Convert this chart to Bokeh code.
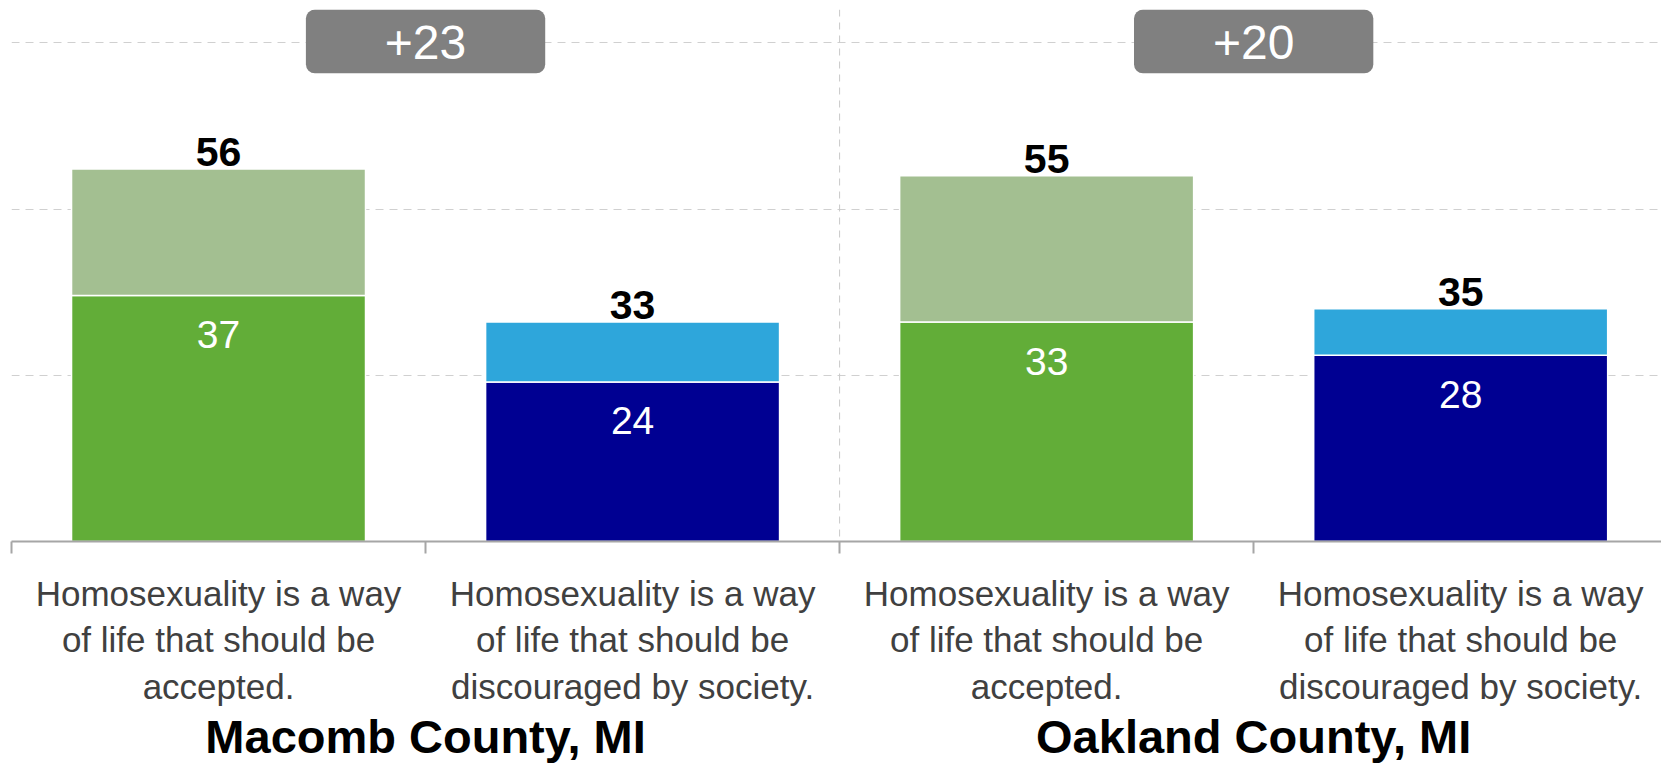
from bokeh.plotting import figure
from bokeh.models import ColumnDataSource, Range1d, FixedTicker, Span, BoxAnnotation, Label, LinearAxis
from bokeh.core.properties import value
from bokeh.embed import file_html
from bokeh.resources import INLINE

# ---- data ----
groups = ["Macomb County, MI", "Oakland County, MI"]
statements = [
    "Homosexuality is a way\nof life that should be\naccepted.",
    "Homosexuality is a way\nof life that should be\ndiscouraged by society.",
]
totals = [56, 33, 55, 35]          # total share (light + dark)
strong = [37, 24, 33, 28]          # strong share (dark segment)
gap_labels = ["+23", "+20"]

dark_colors = ["#62AD38", "#000092", "#62AD38", "#000092"]
light_colors = ["#A3BF91", "#2EA6DB", "#A3BF91", "#2EA6DB"]

FONT = "Liberation Sans"

xs = [i + 0.5 for i in range(len(totals))]
group_centers = [2 * g + 1 for g in range(len(groups))]

src = ColumnDataSource(dict(
    x=xs, total=totals, strong=strong,
    total_txt=[str(v) for v in totals],
    strong_txt=[str(v) for v in strong],
    dark=dark_colors, light=light_colors,
))

p = figure(width=1661, height=767, output_backend="svg", toolbar_location=None,
           x_range=Range1d(0, 3.985), y_range=Range1d(0, 80))
p.min_border_top = 9
p.min_border_left = 11
p.min_border_right = 0
p.min_border_bottom = 226
p.outline_line_color = None
p.background_fill_color = "white"

# grid
p.xgrid.visible = False
p.ygrid.ticker = FixedTicker(ticks=[25, 50, 75])
p.ygrid.grid_line_color = "#D0D0D0"
p.ygrid.grid_line_dash = "8 6"
p.ygrid.grid_line_width = 1
p.yaxis.visible = False

# vertical separator between counties
p.add_layout(Span(location=2, dimension="height", line_color="#C8C8C8",
                  line_dash="7 6", line_width=1))

# bars
p.vbar(x="x", bottom=0, top="strong", width=0.71, fill_color="dark",
       line_color="white", line_width=1.5, source=src)
p.vbar(x="x", bottom="strong", top="total", width=0.71, fill_color="light",
       line_color="white", line_width=1.5, source=src)

# labels
p.text(x="x", y="total", text="total_txt", text_align="center", text_baseline="middle",
       y_offset=-17, text_font=value(FONT), text_font_style="bold", text_font_size="41px",
       text_color="black", source=src)
p.text(x="x", y="strong", text="strong_txt", text_align="center", text_baseline="middle",
       y_offset=39, text_font=value(FONT), text_font_size="39px",
       text_color="white", source=src)

# gap boxes
for gc, lab in zip(group_centers, gap_labels):
    p.add_layout(BoxAnnotation(left=gc - 0.289, right=gc + 0.289, bottom=70.4, top=80,
                               fill_color="#808080", fill_alpha=1, line_color=None,
                               border_radius=9, level="overlay"))
    p.add_layout(Label(x=gc, y=75, text=lab, text_align="center", text_baseline="middle",
                       text_font=FONT, text_font_size="48px", text_color="white",
                       level="overlay"))

# category axis
ax = p.xaxis[0]
ax.ticker = FixedTicker(ticks=xs, minor_ticks=list(range(len(totals) + 1)))
ax.major_label_overrides = {x: statements[i % 2] for i, x in enumerate(xs)}
ax.major_tick_line_color = None
ax.minor_tick_in = 0
ax.minor_tick_out = 12
ax.minor_tick_line_color = "#A6A6A6"
ax.minor_tick_line_width = 2
ax.axis_line_color = "#A6A6A6"
ax.axis_line_width = 2
ax.major_label_text_font = FONT
ax.major_label_text_font_size = "35px"
ax.major_label_text_color = "#404040"
ax.major_label_standoff = 20

# county group axis, below the category labels
cax = LinearAxis(ticker=FixedTicker(ticks=group_centers),
                 major_label_overrides={gc: g for gc, g in zip(group_centers, groups)})
cax.axis_line_color = None
cax.major_tick_line_color = None
cax.minor_tick_line_color = None
cax.major_tick_out = 0
cax.major_tick_in = 0
cax.major_label_text_font = FONT
cax.major_label_text_font_size = "47px"
cax.major_label_text_font_style = "bold"
cax.major_label_text_color = "black"
cax.major_label_standoff = 0
p.add_layout(cax, "below")

open("out.html", "w").write(file_html(p, INLINE))
